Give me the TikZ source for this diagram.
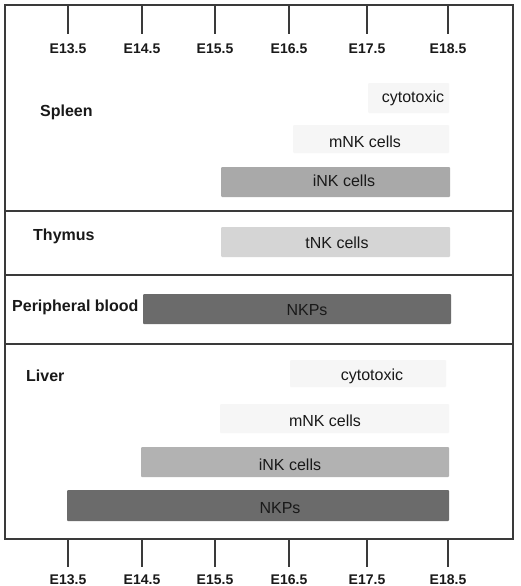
\documentclass[tikz,border=0pt]{standalone}
\usepackage{fontspec}
\setmainfont{Liberation Sans}
\definecolor{frame}{HTML}{3A3A3A}
\definecolor{pale}{HTML}{F6F6F6}
\definecolor{midgray}{HTML}{A9A9A9}
\definecolor{midgrayb}{HTML}{B2B2B2}
\definecolor{lightgray}{HTML}{D5D5D5}
\definecolor{darkgray}{HTML}{6B6B6B}
\tikzset{
  bar/.style={draw=none, inner sep=0pt, outer sep=0pt, rounded corners=1pt},
  bartext/.style={anchor=base, inner sep=0pt, font=\fontsize{16}{19}\selectfont, text=black!90},
  organ/.style={anchor=base west, inner sep=0pt, font=\fontsize{16}{19}\selectfont\bfseries, text=black!90},
  ticklabel/.style={anchor=base, inner sep=0pt, font=\fontsize{14}{17}\selectfont\bfseries, text=black!90},
  tickline/.style={draw=frame, line width=1.5pt},
  frameline/.style={draw=frame, line width=1.5pt}
}
\begin{document}
\begin{tikzpicture}[x=1pt, y=-1pt]
\useasboundingbox (0,0) rectangle (520,586);
\fill[white] (0,0) rectangle (520,586);
% frame
\draw[frameline] (5,5) rectangle (513,539);
\draw[frameline] (5,211) -- (513,211);
\draw[frameline] (5,275) -- (513,275);
\draw[frameline] (5,344) -- (513,344);
% ticks and labels
\foreach \x/\t/\n in {68/E13.5/a, 142/E14.5/b, 215/E15.5/c, 289/E16.5/d, 367/E17.5/e, 448/E18.5/f}{
  \coordinate (tt\n) at (\x,5);
  \coordinate (tb\n) at (\x,34);
  \draw[tickline] (tt\n) -- (tb\n);
  \node[ticklabel] (lt\n) at (\x,54) {\t};
  \coordinate (bt\n) at (\x,539);
  \coordinate (bb\n) at (\x,567);
  \draw[tickline] (bt\n) -- (bb\n);
  \node[ticklabel] (lb\n) at (\x,584) {\t};
}
% organ labels
\node[organ] (spleen) at (40,116) {Spleen};
\node[organ] (thymus) at (33,240) {Thymus};
\node[organ] (blood) at (12,311) {Peripheral blood};
\node[organ] (liver) at (26,381) {Liver};
% spleen bars
\node[bar, fill=pale, minimum width=81pt, minimum height=30pt] (spck) at (408.5,98) {};
\node[bartext] (spckt) at (413,102) {cytotoxic};
\node[bar, fill=pale, minimum width=156pt, minimum height=28pt] (spmnk) at (371,139) {};
\node[bartext] (spmnkt) at (365,147) {mNK cells};
\node[bar, fill=midgray, minimum width=229pt, minimum height=30pt] (spink) at (335.5,182) {};
\node[bartext] (spinkt) at (344,186) {iNK cells};
% thymus
\node[bar, fill=lightgray, minimum width=229pt, minimum height=30pt] (thtnk) at (335.5,242) {};
\node[bartext] (thtnkt) at (337,248) {tNK cells};
% peripheral blood
\node[bar, fill=darkgray, minimum width=308pt, minimum height=30pt] (pbnkp) at (297,309) {};
\node[bartext] (pbnkpt) at (307,315) {NKPs};
% liver
\node[bar, fill=pale, minimum width=156pt, minimum height=27pt] (lvck) at (368,373.5) {};
\node[bartext] (lvckt) at (372,380) {cytotoxic};
\node[bar, fill=pale, minimum width=229pt, minimum height=29pt] (lvmnk) at (334.5,418.5) {};
\node[bartext] (lvmnkt) at (325,426) {mNK cells};
\node[bar, fill=midgrayb, minimum width=308pt, minimum height=30pt] (lvink) at (295,462) {};
\node[bartext] (lvinkt) at (290,470) {iNK cells};
\node[bar, fill=darkgray, minimum width=382pt, minimum height=31pt] (lvnkp) at (258,505.5) {};
\node[bartext] (lvnkpt) at (280,513) {NKPs};
\end{tikzpicture}
\end{document}
